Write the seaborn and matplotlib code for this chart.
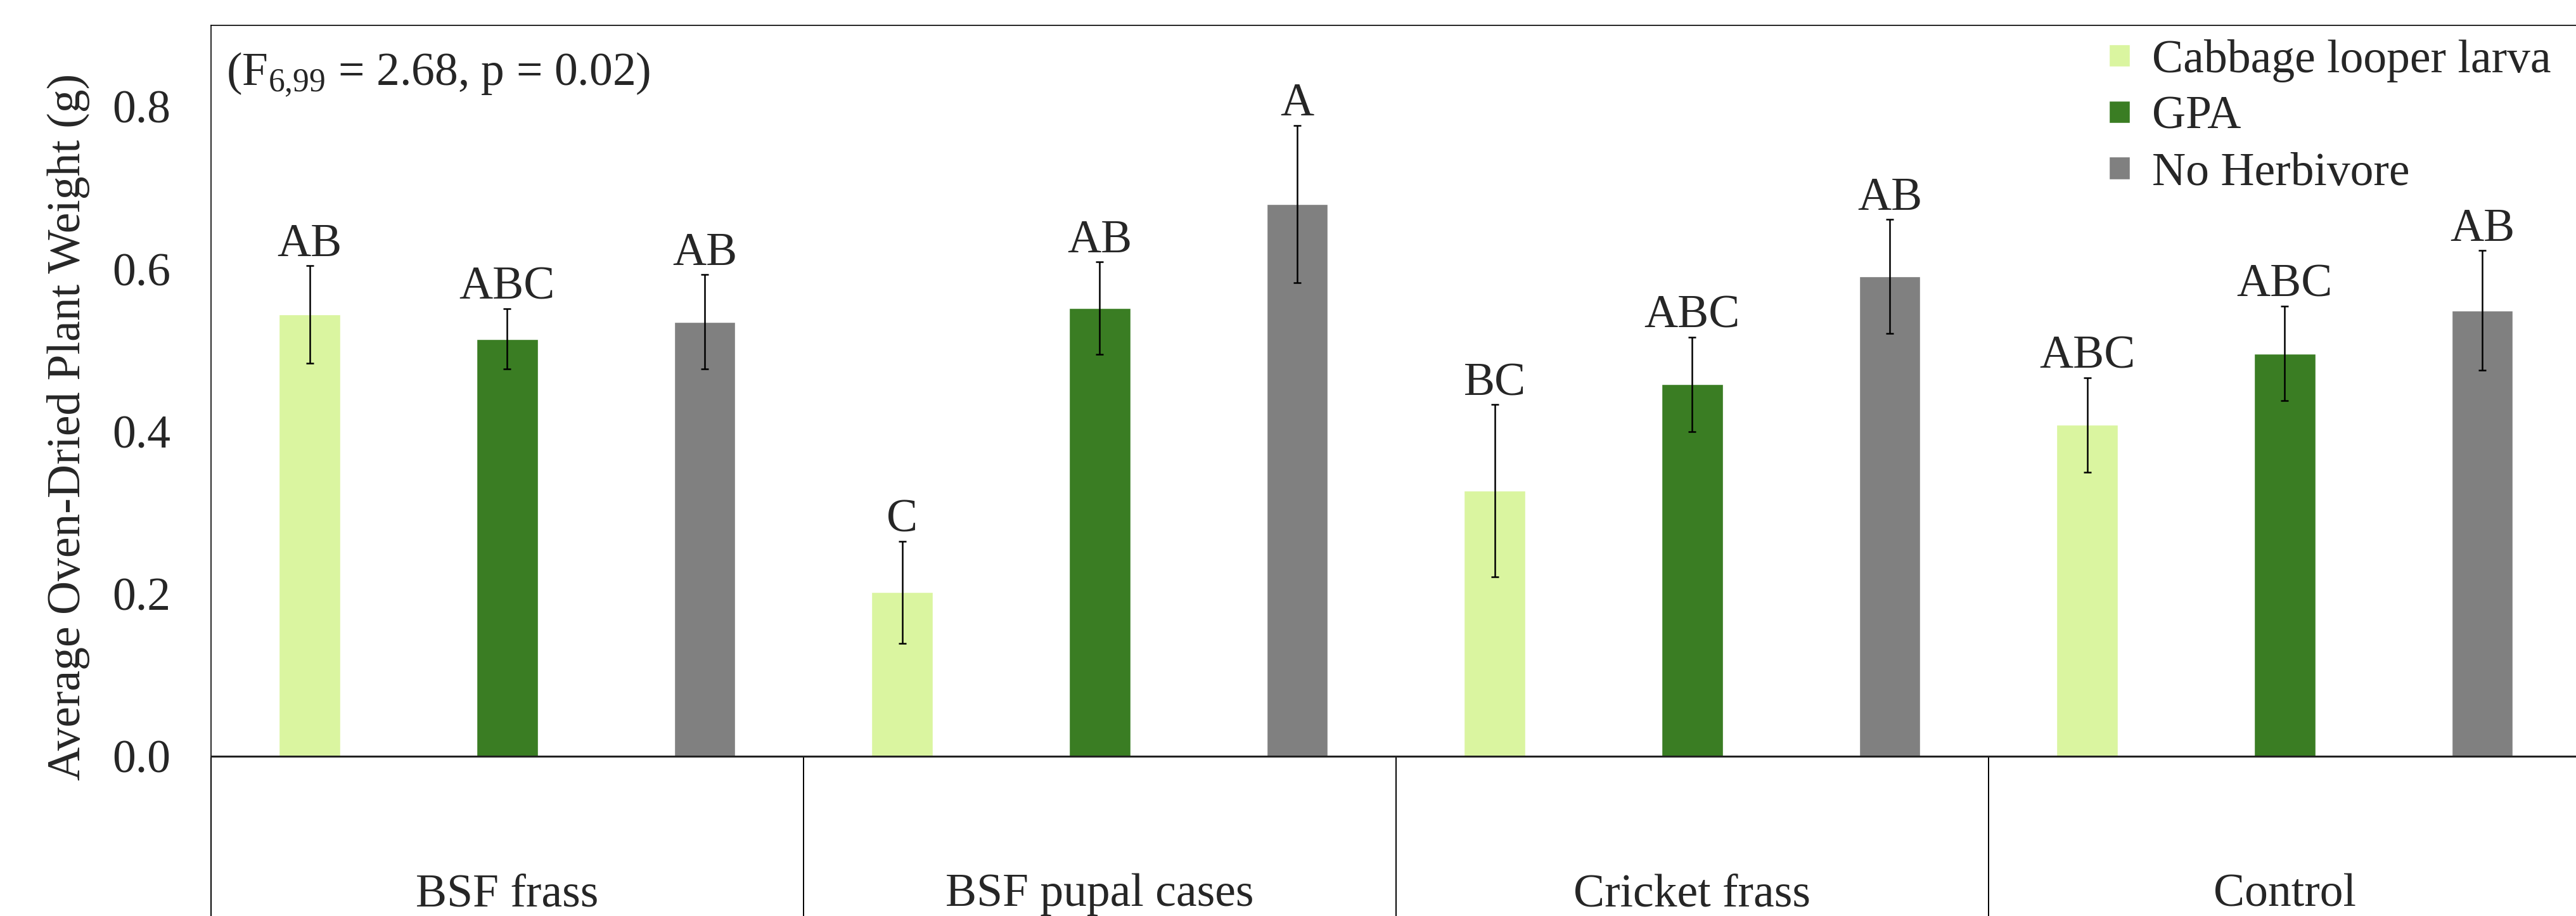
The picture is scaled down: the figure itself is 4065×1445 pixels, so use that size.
import seaborn as sns
import matplotlib.pyplot as plt
import pandas as pd

# values
treatments = ['BSF frass', 'BSF pupal cases', 'Cricket frass', 'Control']
herbivores = ['Cabbage looper larva', 'GPA', 'No Herbivore']

looper_mean = [0.544, 0.202, 0.327, 0.408]
gpa_mean = [0.514, 0.552, 0.458, 0.496]
none_mean = [0.535, 0.680, 0.591, 0.549]

looper_se = [0.060, 0.063, 0.106, 0.058]
gpa_se = [0.037, 0.057, 0.058, 0.058]
none_se = [0.058, 0.097, 0.070, 0.074]

looper_letters = ['AB', 'C', 'BC', 'ABC']
gpa_letters = ['ABC', 'AB', 'ABC', 'ABC']
none_letters = ['AB', 'A', 'AB', 'AB']

colors = ['#DAF5A0', '#3A7D23', '#808080']

df = pd.DataFrame({
    'treatment': treatments * 3,
    'herbivore': [h for h in herbivores for _ in treatments],
    'weight': looper_mean + gpa_mean + none_mean,
})

sns.set_style('white')
plt.rcParams['font.family'] = ['Liberation Serif', 'DejaVu Serif']
plt.rcParams['mathtext.fontset'] = 'custom'
plt.rcParams['mathtext.rm'] = 'Liberation Serif'
plt.rcParams['mathtext.it'] = 'Liberation Serif'

fs = 53

fig = plt.figure(figsize=(40.65, 14.45), dpi=100)
ax = fig.add_axes([0.0819, 0.1744, 0.920, 0.7979])

sns.barplot(data=df, x='treatment', y='weight', hue='herbivore',
            order=treatments, hue_order=herbivores, palette=colors,
            width=1.0, gap=0.69, errorbar=None, saturation=1, ax=ax)

# error bars and letters on top of the seaborn bars
for cont, ses, letters in zip(ax.containers,
                              [looper_se, gpa_se, none_se],
                              [looper_letters, gpa_letters, none_letters]):
    for bar, se, lab in zip(cont, ses, letters):
        x = bar.get_x() + bar.get_width() / 2
        h = bar.get_height()
        ax.errorbar(x, h, yerr=se, fmt='none', ecolor='black',
                    elinewidth=1.8, capsize=4.5, capthick=1.8)
        ax.annotate(lab, (x, h + se), xytext=(0, 11), textcoords='offset points',
                    ha='center', va='baseline', fontsize=fs)

ax.set_xlim(-0.5, 3.5)
ax.set_ylim(0, 0.9)
ax.set_yticks([0.0, 0.2, 0.4, 0.6, 0.8])
ax.set_yticklabels(['0.0', '0.2', '0.4', '0.6', '0.8'])
ax.tick_params(axis='y', length=0, pad=46, labelsize=fs)

# category separators as long minor ticks
ax.set_xticks([-0.5, 0.5, 1.5, 2.5, 3.5], minor=True)
ax.tick_params(axis='x', which='minor', length=185, width=1.4,
               direction='out', color='black', bottom=True)
ax.tick_params(axis='x', which='major', length=0, pad=133, labelsize=fs)
ax.set_xlabel('')

ax.set_ylabel('Average Oven-Dried Plant Weight (g)', fontsize=fs)
ax.yaxis.set_label_coords(-0.051, 0.451)

for side in ['left', 'top', 'right']:
    ax.spines[side].set_color('black')
    ax.spines[side].set_linewidth(1.2)
ax.spines['bottom'].set_color('#222222')
ax.spines['bottom'].set_linewidth(2.2)

ax.text(0.0064, 0.9176, r'(F$_{6{,}99}$ = 2.68, p = 0.02)', transform=ax.transAxes,
        ha='left', va='baseline', fontsize=fs)

sns.move_legend(ax, 'upper left', bbox_to_anchor=(3328 / 4065, 1 - 62 / 1445),
                bbox_transform=fig.transFigure, frameon=False, title=None,
                fontsize=fs, handlelength=0.45, handleheight=0.37,
                handletextpad=0.47, labelspacing=0.29, borderpad=0,
                borderaxespad=0)

fig.savefig('out.png', dpi=100)
